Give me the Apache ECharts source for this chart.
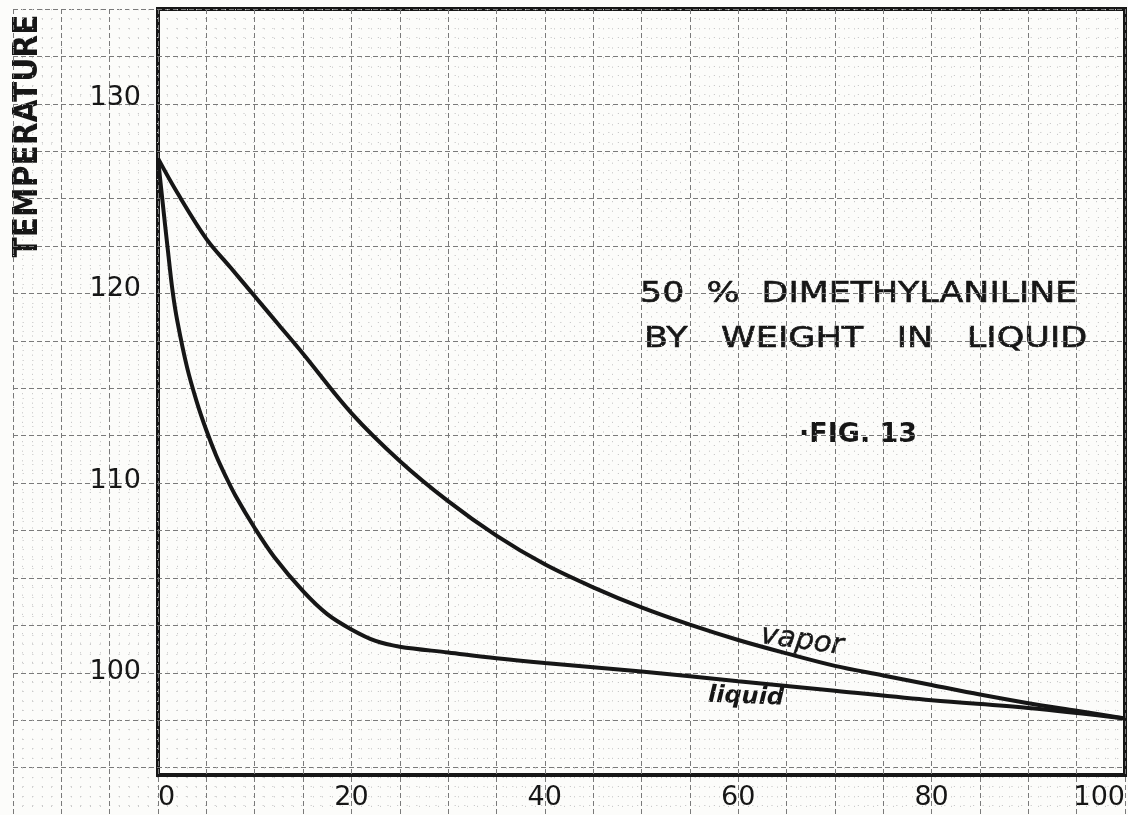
<!DOCTYPE html>
<html>
<head>
<meta charset="utf-8">
<title>Fig. 13 - 50 % Dimethylaniline</title>
<script src="https://cdn.jsdelivr.net/npm/echarts@6/dist/echarts.min.js"></script>
<style>
  html, body { margin: 0; padding: 0; background: #fcfcfa; }
  #chart { width: 1128px; height: 815px; }
</style>
</head>
<body>
<div id="chart"></div>
<script>
// vapor curve: % by weight vs temperature
const vaporX = [0, 2, 5, 7.5, 10, 12.5, 15, 20, 25, 30, 35, 40, 45, 50, 55, 60, 65, 70, 75, 80, 85, 90, 95, 100]
const vaporT = [127.2, 125.4, 123.0, 121.5, 120.0, 118.5, 117.0, 113.9, 111.4, 109.3, 107.5, 106.0, 104.8, 103.75, 102.85, 102.05, 101.35, 100.7, 100.2, 99.7, 99.2, 98.75, 98.35, 97.95]

// liquid curve
const liquidX = [0, 0.5, 1, 1.5, 2, 3, 4, 5, 6, 7, 8, 10, 12, 15, 17.5, 20, 22.5, 25, 30, 35, 40, 50, 60, 70, 80, 90, 100]
const liquidT = [127.2, 124.8, 122.5, 120.3, 118.7, 116.3, 114.5, 113.0, 111.7, 110.6, 109.6, 107.9, 106.4, 104.6, 103.4, 102.6, 102.0, 101.7, 101.4, 101.1, 100.85, 100.4, 99.9, 99.4, 98.9, 98.5, 97.95]

// tick labels
const xTickLabels = [0, 20, 40, 60, 80, 100]
const yTickLabels = [100, 110, 120, 130]

const ink = '#161616'
const font = "'DejaVu Sans', sans-serif"

const chart = echarts.init(document.getElementById('chart'))

function pairs(xs, ys) {
  return xs.map((x, i) => [x, ys[i]])
}

// graph paper: dashed lines every 5 / 2.5 units, fine dots in between
const paperLine = { show: true, lineStyle: { color: '#7a7a7a', width: 1, type: [5, 3] } }
const paperDots = { show: true, lineStyle: { color: '#cacaca', width: 1, type: [1.2, 8.4] } }
const hidden = { show: false }

chart.setOption({
  backgroundColor: '#fcfcfa',
  animation: false,
  grid: [
    // paper, runs past the frame
    { left: 13, right: 3, top: 9, bottom: -8, show: false },
    // framed plot
    { left: 158, right: 3, top: 9, bottom: 40, show: true, borderColor: ink, borderWidth: 4, backgroundColor: 'transparent' }
  ],
  xAxis: [
    {
      gridIndex: 0, type: 'value', min: -15, max: 100, interval: 5,
      axisLine: hidden, axisTick: hidden, axisLabel: hidden,
      minorTick: { show: false, splitNumber: 5 },
      splitLine: paperLine, minorSplitLine: paperDots
    },
    {
      gridIndex: 1, type: 'value', min: 0, max: 100, interval: 20,
      axisLine: hidden, axisTick: hidden, splitLine: hidden,
      axisLabel: {
        color: ink, fontFamily: font, fontSize: 27, margin: 9,
        alignMinLabel: 'left', alignMaxLabel: 'right',
        formatter: v => (xTickLabels.includes(v) ? String(v) : '')
      }
    }
  ],
  yAxis: [
    {
      gridIndex: 0, type: 'value', min: 92.5, max: 135, interval: 2.5,
      axisLine: hidden, axisTick: hidden, axisLabel: hidden,
      minorTick: { show: false, splitNumber: 5 },
      splitLine: paperLine, minorSplitLine: paperDots
    },
    {
      gridIndex: 1, type: 'value', min: 95, max: 135, interval: 5,
      axisLine: hidden, axisTick: hidden, splitLine: hidden,
      axisLabel: {
        color: ink, fontFamily: font, fontSize: 27, margin: 17,
        verticalAlign: 'bottom', lineHeight: 14,
        formatter: v => (yTickLabels.includes(v) ? String(v) : '')
      }
    }
  ],
  series: [
    {
      name: 'vapor', type: 'line', xAxisIndex: 1, yAxisIndex: 1,
      data: pairs(vaporX, vaporT),
      smooth: 0.35, showSymbol: false,
      lineStyle: { color: ink, width: 4 }
    },
    {
      name: 'liquid', type: 'line', xAxisIndex: 1, yAxisIndex: 1,
      data: pairs(liquidX, liquidT),
      smooth: 0.35, showSymbol: false,
      lineStyle: { color: ink, width: 4 }
    }
  ],
  graphic: [
    {
      type: 'text', x: 28, y: 136, rotation: Math.PI / 2,
      style: { text: 'TEMPERATURE', fill: ink, font: "bold 33px 'DejaVu Sans Condensed', 'DejaVu Sans', sans-serif", align: 'center', verticalAlign: 'middle' }
    },
    {
      type: 'text', x: 640, y: 294, scaleX: 1.2,
      style: { text: '50  %  DIMETHYLANILINE', fill: ink, font: '29px ' + font, align: 'left', verticalAlign: 'middle', stroke: ink, lineWidth: 0.6 }
    },
    {
      type: 'text', x: 644, y: 339, scaleX: 1.21,
      style: { text: 'BY   WEIGHT   IN   LIQUID', fill: ink, font: '29px ' + font, align: 'left', verticalAlign: 'middle', stroke: ink, lineWidth: 0.6 }
    },
    {
      type: 'text', x: 799, y: 435,
      style: { text: '·FIG. 13', fill: ink, font: 'bold 27px ' + font, align: 'left', verticalAlign: 'middle' }
    },
    {
      type: 'text', x: 802, y: 641, rotation: -0.14,
      style: { text: 'vapor', fill: ink, font: "italic 29px 'DejaVu Sans', sans-serif", align: 'center', verticalAlign: 'middle', stroke: ink, lineWidth: 0.5 }
    },
    {
      type: 'text', x: 746, y: 697, rotation: -0.04,
      style: { text: 'liquid', fill: ink, font: "italic bold 24px 'DejaVu Sans', sans-serif", align: 'center', verticalAlign: 'middle' }
    }
  ]
})
</script>
</body>
</html>
